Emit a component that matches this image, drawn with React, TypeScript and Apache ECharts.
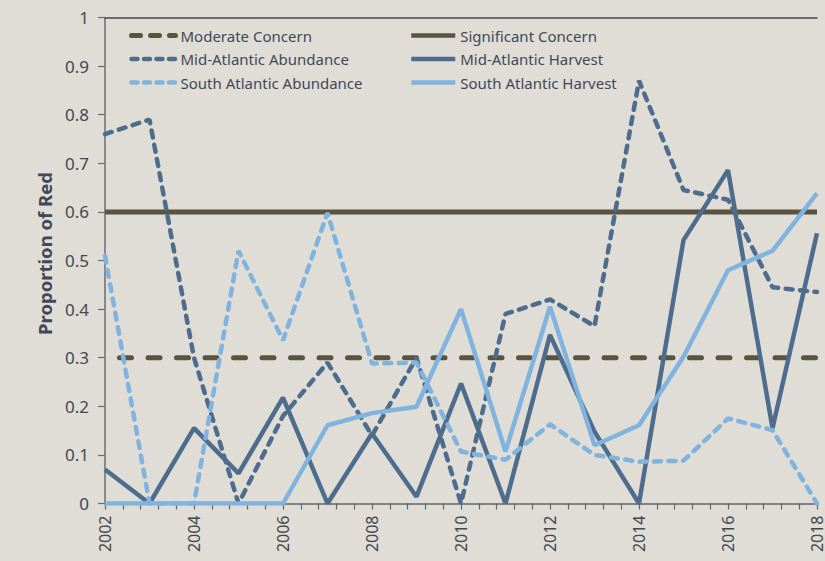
import React, { useEffect, useRef } from "react";
import * as echarts from "echarts";

const years = [2002, 2003, 2004, 2005, 2006, 2007, 2008, 2009, 2010, 2011, 2012, 2013, 2014, 2015, 2016, 2017, 2018];
const midAtlanticAbundance = [0.76, 0.79, 0.3, 0.0, 0.18, 0.29, 0.14, 0.3, 0.0, 0.39, 0.42, 0.365, 0.87, 0.645, 0.625, 0.445, 0.435];
const midAtlanticHarvest = [0.07, 0.0, 0.155, 0.062, 0.218, 0.0, 0.144, 0.014, 0.247, 0.0, 0.347, 0.148, 0.0, 0.542, 0.686, 0.155, 0.556];
const southAtlanticAbundance = [0.51, 0.0, 0.0, 0.52, 0.336, 0.598, 0.288, 0.29, 0.107, 0.09, 0.163, 0.1, 0.086, 0.088, 0.175, 0.151, 0.0];
const southAtlanticHarvest = [0.0, 0.0, 0.0, 0.0, 0.0, 0.161, 0.186, 0.199, 0.4, 0.107, 0.405, 0.12, 0.161, 0.302, 0.48, 0.52, 0.638];
const moderateConcern = 0.3;
const significantConcern = 0.6;

const DARK = "#4e6d8d";
const LIGHT = "#80b3de";
const BROWN = "#5a5341";
const TEXT = "#3f4858";
const FONT = "Noto Sans";

const pairs = (vals: number[]) => years.map((y, i) => [y, vals[i]]);
const flat = (v: number) => years.map((y) => [y, v]);

export default function App() {
  const ref = useRef<HTMLDivElement>(null);
  useEffect(() => {
    const chart = echarts.init(ref.current!, null, { renderer: "svg" });
    const legendText = { color: TEXT, fontFamily: FONT, fontSize: 15 };
    const legendBase = {
      top: 23,
      orient: "vertical",
      itemGap: 8.5,
      itemWidth: 44,
      itemHeight: 14,
      textStyle: legendText,
      itemStyle: { opacity: 0 },
      lineStyle: { width: 4.5 },
    };
    chart.setOption({
      animation: false,
      backgroundColor: "#dfddd6",
      grid: { left: 105, right: 0, top: 17.5, bottom: 57.5 },
      legend: [
        {
          ...legendBase,
          left: 124,
          data: [
            { name: "Moderate Concern", lineStyle: { type: [9, 10], dashOffset: 0, width: 5 } },
            { name: "Mid-Atlantic Abundance", lineStyle: { type: [6, 6.5], dashOffset: 0, width: 4.5 } },
            { name: "South Atlantic Abundance", lineStyle: { type: [6, 6.5], dashOffset: 0, width: 4.5 } },
          ],
        },
        {
          ...legendBase,
          left: 404,
          data: ["Significant Concern", "Mid-Atlantic Harvest", "South Atlantic Harvest"],
        },
      ],
      xAxis: [
        {
          type: "value",
          min: 2002,
          max: 2018,
          interval: 2,
          axisLine: { show: true, lineStyle: { color: "#5f6468", width: 1.5 } },
          axisTick: { show: true, length: 6, lineStyle: { color: "#5f6468", width: 1.2 } },
          minorTick: { show: true, splitNumber: 5, length: 6, lineStyle: { color: "#5f6468", width: 1.2 } },
          splitLine: { show: false },
          axisLabel: {
            rotate: 90,
            margin: 12,
            color: "#44474c",
            fontFamily: FONT,
            fontSize: 16,
            formatter: (v: number) => String(Math.round(v)),
          },
        },
        {
          type: "value",
          position: "top",
          min: 2002,
          max: 2018,
          axisLine: { show: true, lineStyle: { color: "#3e4b4e", width: 1.5 } },
          axisTick: { show: false },
          axisLabel: { show: false },
          splitLine: { show: false },
        },
      ],
      yAxis: {
        type: "value",
        min: 0,
        max: 1,
        interval: 0.1,
        name: "Proportion of Red",
        nameLocation: "middle",
        nameGap: 49,
        nameTextStyle: { color: TEXT, fontFamily: FONT, fontSize: 18.5, fontWeight: "bold", padding: [0, 0, 0, 14] },
        axisLine: { show: true, lineStyle: { color: "#6a6e72", width: 1.5 } },
        axisTick: { show: true, length: 7, lineStyle: { color: "#6a6e72", width: 1.2 } },
        splitLine: { show: false },
        axisLabel: { margin: 16, color: "#44474c", fontFamily: FONT, fontSize: 17 },
      },
      series: [
        {
          name: "Moderate Concern",
          type: "line",
          data: flat(moderateConcern),
          symbol: "none",
          color: BROWN,
          lineStyle: { color: BROWN, width: 5, type: [12, 16.5], dashOffset: 14.3, cap: "round" },
        },
        {
          name: "Significant Concern",
          type: "line",
          data: flat(significantConcern),
          symbol: "none",
          color: BROWN,
          lineStyle: { color: BROWN, width: 5 },
        },
        {
          name: "Mid-Atlantic Abundance",
          type: "line",
          data: pairs(midAtlanticAbundance),
          symbol: "none",
          color: DARK,
          lineStyle: { color: DARK, width: 4.5, type: [7, 7.5], cap: "round" },
        },
        {
          name: "Mid-Atlantic Harvest",
          type: "line",
          data: pairs(midAtlanticHarvest),
          symbol: "none",
          color: DARK,
          lineStyle: { color: DARK, width: 4.5 },
        },
        {
          name: "South Atlantic Abundance",
          type: "line",
          data: pairs(southAtlanticAbundance),
          symbol: "none",
          color: LIGHT,
          lineStyle: { color: LIGHT, width: 4.5, type: [7, 7.5], cap: "round" },
        },
        {
          name: "South Atlantic Harvest",
          type: "line",
          data: pairs(southAtlanticHarvest),
          symbol: "none",
          color: LIGHT,
          lineStyle: { color: LIGHT, width: 4.5 },
        },
      ],
    });
    return () => chart.dispose();
  }, []);
  return (
    <div
      ref={ref}
      style={{ position: "fixed", left: 0, top: 0, width: 825, height: 561, background: "#dfddd6" }}
    />
  );
}
